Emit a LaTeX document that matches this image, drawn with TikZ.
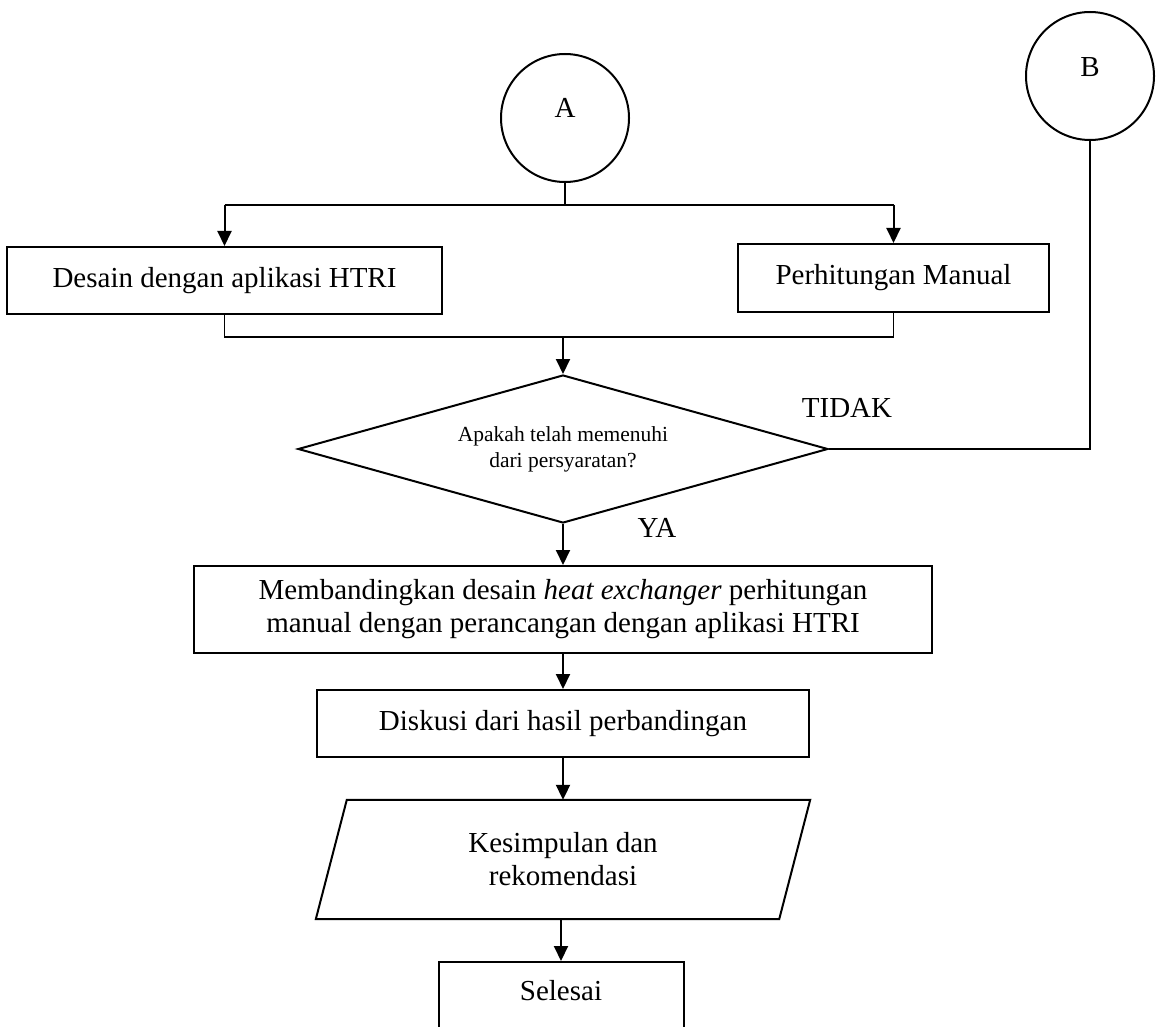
\documentclass[tikz,border=0pt]{standalone}
\usepackage{fontspec}
\setmainfont{Liberation Serif}
\usetikzlibrary{arrows.meta,shapes.geometric,calc}
\begin{document}
\begin{tikzpicture}[x=1pt,y=-1pt,
  txt/.style={font=\fontsize{29}{33}\selectfont},
  box/.style={draw, line width=2pt, rectangle, inner sep=0pt, align=center, txt},
  circ/.style={draw, circle, line width=2pt, minimum size=128pt, inner sep=0pt, txt},
  thinline/.style={line width=1.1pt},
  thickline/.style={line width=2pt},
  arr/.style={line width=2pt, -{Triangle[length=15pt,width=14pt]}},
  lbl/.style={inner sep=0pt, txt},
]
\useasboundingbox (0,0) rectangle (1159,1027);
\clip (0,0) rectangle (1159,1027);

% nodes
\node[circ] (A) at (565,118) {\raisebox{20pt}{A}};
\node[circ] (B) at (1090,76) {\raisebox{18pt}{B}};
\node[box, minimum width=435pt, minimum height=67pt] (d1) at (224.5,280.5) {Desain dengan aplikasi HTRI};
\node[box, minimum width=311pt, minimum height=68pt] (d2) at (893.5,278) {Perhitungan Manual};
\node[diamond, draw, line width=2pt, minimum width=530pt, minimum height=148pt, aspect=3.58,
      inner sep=0pt, align=center, font=\fontsize{21.5}{26}\selectfont] (dec) at (563,449)
      {Apakah telah memenuhi\\dari persyaratan?};
\node[box, minimum width=738pt, minimum height=87pt] (cmp) at (563,609.5)
      {Membandingkan desain \textit{heat exchanger} perhitungan\\manual dengan perancangan dengan aplikasi HTRI};
\node[box, minimum width=492pt, minimum height=67pt] (dis) at (563,723.5) {Diskusi dari hasil perbandingan};
\node[rectangle, inner sep=0pt, minimum width=463pt, minimum height=119pt, align=center, txt] (kes) at (563,859.5)
      {Kesimpulan dan\\rekomendasi};
\draw[thickline] ($(kes.north west)+(15.5,0)$) -- ($(kes.north east)+(15.5,0)$)
      -- ($(kes.south east)+(-15.5,0)$) -- ($(kes.south west)+(-15.5,0)$) -- cycle;
\node[box, minimum width=245pt, minimum height=130pt] (sel) at (561,1027) {\raisebox{74pt}{Selesai}};

\node[lbl] (tidak) at (847,408) {TIDAK};
\node[lbl] (ya) at (657,528) {YA};

% connectors
\coordinate (j1) at (565,205);
\coordinate (j2) at (563,337);
\draw[thinline] (A.south) -- (A.south |- j1);
\draw[thinline] (j1 -| d1.north) -- (j1 -| d2.north);
\draw[arr] (j1 -| d1.north) -- (d1.north);
\draw[arr] (j1 -| d2.north) -- (d2.north);
\draw[thinline] (d1.south) -- (d1.south |- j2) -- (d2.south |- j2) -- (d2.south);
\draw[arr] (dec.north |- j2) -- (dec.north);
\draw[thickline] (dec.east) -- (dec.east -| B.south) -- (B.south);
\draw[arr] (dec.south) -- (dec.south |- cmp.north);
\draw[arr] (cmp.south -| dis.north) -- (dis.north);
\draw[arr] (dis.south -| kes.north) -- (kes.north);
\draw[arr] (kes.south -| sel.north) -- (sel.north);
\end{tikzpicture}
\end{document}
